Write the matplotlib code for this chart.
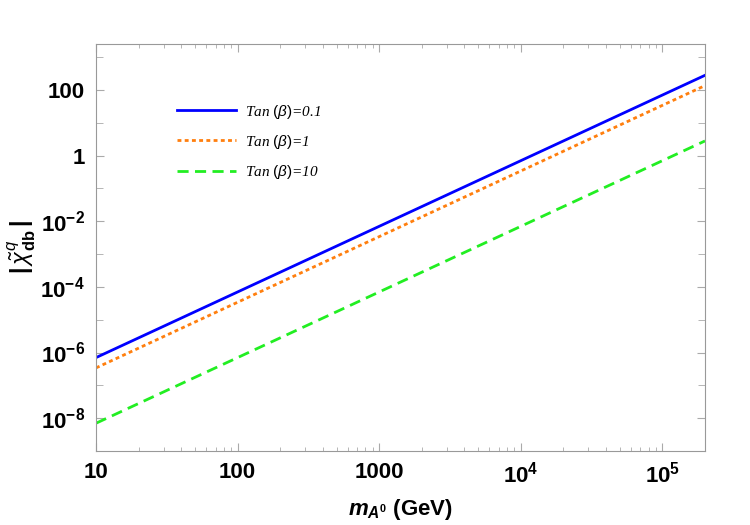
import matplotlib.pyplot as plt
import numpy as np
from matplotlib.ticker import FixedLocator, FixedFormatter, LogLocator, NullFormatter

# values (straight lines on log-log axes)
m_A = [10, 100, 1000, 1e4, 1e5, 2e5]
chi_tan01 = [7e-7, 7e-5, 7e-3, 0.7, 70, 280]
chi_tan1 = [3.4e-7, 3.4e-5, 3.4e-3, 0.34, 34, 136]
chi_tan10 = [7e-9, 7e-7, 7e-5, 7e-3, 0.7, 2.8]

labels = [r'Tan $(\beta)$=0.1', r'Tan $(\beta)$=1', r'Tan $(\beta)$=10']

x_ticks = [10, 100, 1000, 1e4, 1e5]
x_labels = ['10', '100', '1000', r'$\mathbf{10^4}$', r'$\mathbf{10^5}$']
y_ticks = [1e-8, 1e-6, 1e-4, 1e-2, 1, 100]
y_labels = [r'$\mathbf{10^{-8}}$', r'$\mathbf{10^{-6}}$', r'$\mathbf{10^{-4}}$',
            r'$\mathbf{10^{-2}}$', '1', '100']

plt.rcParams['font.family'] = ['Liberation Sans', 'DejaVu Sans']
plt.rcParams['mathtext.fontset'] = 'custom'
plt.rcParams['mathtext.rm'] = 'Liberation Sans'
plt.rcParams['mathtext.it'] = 'Liberation Sans:italic'
plt.rcParams['mathtext.bf'] = 'Liberation Sans:bold'
plt.rcParams['mathtext.bfit'] = 'Liberation Sans:bold:italic'

fig = plt.figure(figsize=(7.5, 5.25), dpi=100)
ax = fig.add_axes([0.128, 0.141, 0.812, 0.775])

ax.plot(m_A, chi_tan01, color='#0000ff', lw=2.0, label=labels[0])
ax.plot(m_A, chi_tan1, color='#ff7f0e', lw=2.0, dashes=(1.4, 1.2), label=labels[1])
ax.plot(m_A, chi_tan10, color='#22ee22', lw=2.0, dashes=(4, 2.3), label=labels[2])

ax.set_xscale('log')
ax.set_yscale('log')
ax.set_xlim(10, 2e5)
ax.set_ylim(1e-9, 2.5e3)

ax.xaxis.set_major_locator(FixedLocator(x_ticks))
ax.xaxis.set_major_formatter(FixedFormatter(x_labels))
ax.xaxis.set_minor_locator(LogLocator(base=10, subs=np.arange(2, 10)))
ax.xaxis.set_minor_formatter(NullFormatter())
ax.yaxis.set_major_locator(FixedLocator(y_ticks))
ax.yaxis.set_major_formatter(FixedFormatter(y_labels))
ax.yaxis.set_minor_locator(FixedLocator([10.0 ** k for k in range(-9, 4, 2)]))
ax.yaxis.set_minor_formatter(NullFormatter())

for s in ax.spines.values():
    s.set_color('#999999')
    s.set_linewidth(0.8)
ax.tick_params(which='both', direction='in', color='#aaaaaa', top=True, right=True,
               labelsize=16, pad=8)
ax.tick_params(which='major', length=6, width=0.8)
ax.tick_params(which='minor', length=3, width=0.6)
ax.tick_params(axis='y', which='minor', length=5)
for t in ax.get_xticklabels() + ax.get_yticklabels():
    t.set_fontweight('bold')

ax.set_xlabel(r'$\mathbfit{m}_{\mathbfit{A}^\mathbf{0}}$ (GeV)', fontsize=16,
              fontweight='bold')
ax.xaxis.set_label_coords(0.5, -0.113)
ax.set_ylabel(r'$\mathbf{|}\,\tilde{\chi}^{q}_{\mathbf{db}}\,\mathbf{|}$', fontsize=17,
              fontweight='bold', labelpad=2)

leg = ax.legend(loc='upper left', bbox_to_anchor=(0.11, 0.89), frameon=False,
                prop={'family': 'Liberation Serif', 'style': 'italic', 'size': 11},
                handlelength=3.9, labelspacing=0.8, handletextpad=0.6)

fig.savefig('out.png', dpi=100)
